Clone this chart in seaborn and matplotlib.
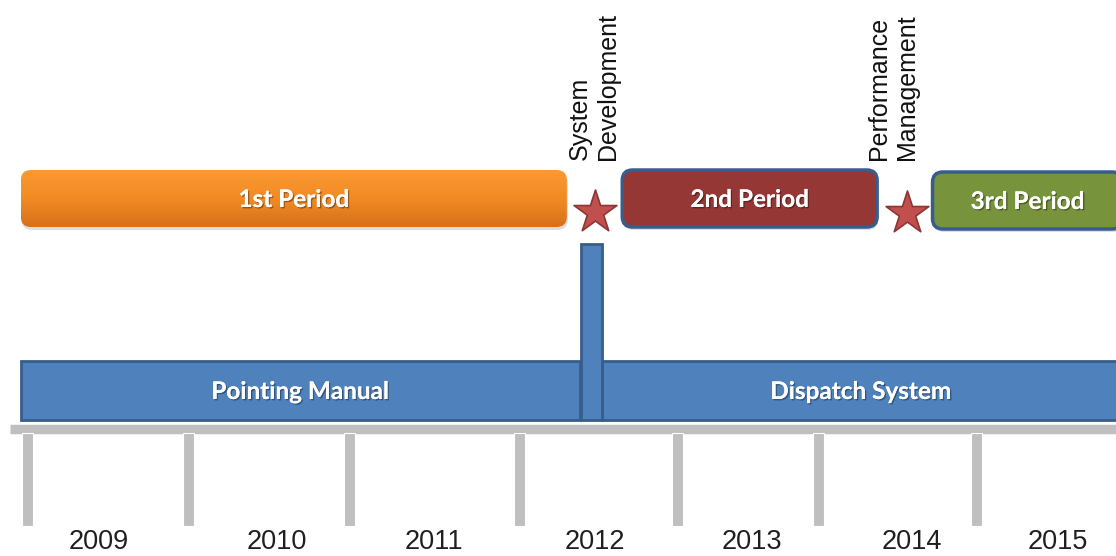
import numpy as np
import pandas as pd
import matplotlib
matplotlib.use("Agg")
import matplotlib.pyplot as plt
import seaborn as sns
from matplotlib.patches import FancyBboxPatch
from matplotlib.colors import LinearSegmentedColormap
import matplotlib.patheffects as pe

# ---------------- data ----------------
years = ["2009", "2010", "2011", "2012", "2013", "2014", "2015"]
year_tick_pos = [2009.00, 2010.02, 2011.04, 2012.11, 2013.11, 2014.00, 2015.00]
year_label_pos = [2009.45, 2010.58, 2011.57, 2012.59, 2013.58, 2014.59, 2015.51]

phases = ["Pointing Manual", "Dispatch System"]
phase_start = [2008.96, 2012.63]
phase_end = [2012.49, 2015.90]

transition_start = 2012.50
transition_end = 2012.63

periods = ["1st Period", "2nd Period", "3rd Period"]
period_start = [2008.96, 2012.76, 2014.72]
period_end = [2012.41, 2014.37, 2015.92]

milestones = ["System\nDevelopment", "Performance\nManagement"]
milestone_star_x = [2012.59, 2014.56]
milestone_label_x = [2012.58, 2014.47]

# ---------------- style ----------------
sns.set_theme(style="white")
plt.rcParams['font.family'] = ['Liberation Sans', 'DejaVu Sans']

XMIN, XMAX = 2008.829, 2015.879
PX = (XMAX - XMIN) / 1116.0          # years per pixel
ASPECT = 1.0 / PX                    # y-units per year for equal rounding

blue = "#4F81BD"
blue_edge = "#385D8A"
period_colors = [None, "#953735", "#77933C"]
orange_top, orange_bot = "#FA9A34", "#D6711A"
grey = "#BFBFBF"

fig = plt.figure(figsize=(11.16, 5.56), dpi=100)
ax = fig.add_axes([0, 0, 1, 1])

# rows (layout)
period_top, period_h = 170, 57
phase_top, phase_h = 361, 59
trans_top = 244
axis_y = 428.5
tick_top, tick_len = 433, 93
label_y = 542
star_y = [212, 213]
mil_text_y = 160

box_font = dict(family=['Lato', 'DejaVu Sans'], fontweight='bold', color='white')
shadow = [pe.withSimplePatchShadow(offset=(1, -1), shadow_rgbFace='black', alpha=0.35), pe.Normal()]


def rounded(x0, x1, y0, h, fc, ec, lw, r=0.065, z=3):
    p = FancyBboxPatch((x0, y0), x1 - x0, h,
                       boxstyle=f"round,pad=0,rounding_size={r}",
                       mutation_aspect=ASPECT, fc=fc, ec=ec, lw=lw, zorder=z)
    ax.add_patch(p)
    return p

# axis line and year ticks
ax.hlines(axis_y, XMIN + 10 * PX, XMAX, color=grey, lw=6.8, zorder=1)
ax.bar(year_tick_pos, [tick_len] * len(year_tick_pos), bottom=tick_top,
       width=11 * PX, color=grey, edgecolor='white', linewidth=0.8, zorder=1)
for lx, yr in zip(year_label_pos, years):
    ax.text(lx, label_y, yr, ha='center', va='center', fontsize=19.5, color='#1f1f1f')

# phase bars (blue)
ax.barh([phase_top + phase_h / 2] * 2,
        np.array(phase_end) - np.array(phase_start),
        left=phase_start, height=phase_h, color=blue,
        edgecolor=blue_edge, linewidth=2, zorder=2)
for name, s, e in zip(phases, phase_start, phase_end):
    ax.text((s + e) / 2, phase_top + phase_h / 2 + 1, name, ha='center', va='center',
            fontsize=17.5, path_effects=shadow, zorder=6, **box_font)

# transition bar
ax.bar([(transition_start + transition_end) / 2], [phase_top + phase_h - trans_top],
       bottom=trans_top, width=transition_end - transition_start,
       color=blue, edgecolor=blue_edge, linewidth=2, zorder=3)

# period boxes
for i, (name, s, e) in enumerate(zip(periods, period_start, period_end)):
    top = period_top + (2 if i == 2 else 0)
    rounded(s + 1 * PX, e + 1 * PX, top + 3, period_h, '#00000022', 'none', 0, z=2)
    if i == 0:
        p = rounded(s, e, top, period_h, 'none', 'none', 0, z=3)
        cmap = LinearSegmentedColormap.from_list('o', [orange_top, "#F28A24", orange_bot])
        grad = np.linspace(0, 1, 100).reshape(-1, 1)
        im = ax.imshow(grad, extent=(s, e, top + period_h, top), aspect='auto',
                       cmap=cmap, zorder=3, interpolation='bilinear')
        im.set_clip_path(p)
    else:
        rounded(s, e, top, period_h, period_colors[i], blue_edge, 2.5, z=3)
    ax.text((s + e) / 2, top + period_h / 2 + 1, name, ha='center', va='center',
            fontsize=17.5, path_effects=shadow, zorder=6, **box_font)

# milestone stars
sns.scatterplot(x=milestone_star_x, y=star_y, marker='*', s=1050,
                color='#C0504D', edgecolor='#8C3533', linewidth=1.2, zorder=5, ax=ax)

# milestone labels
for mx, txt in zip(milestone_label_x, milestones):
    ax.text(mx, mil_text_y, txt, rotation=90, ha='center', va='bottom',
            multialignment='left', fontsize=18, color='#111111', linespacing=1.25)

ax.set_xlim(XMIN, XMAX)
ax.set_ylim(556, 0)
ax.axis('off')
if ax.get_legend():
    ax.get_legend().remove()
fig.savefig("out.png", dpi=100, facecolor='white')
